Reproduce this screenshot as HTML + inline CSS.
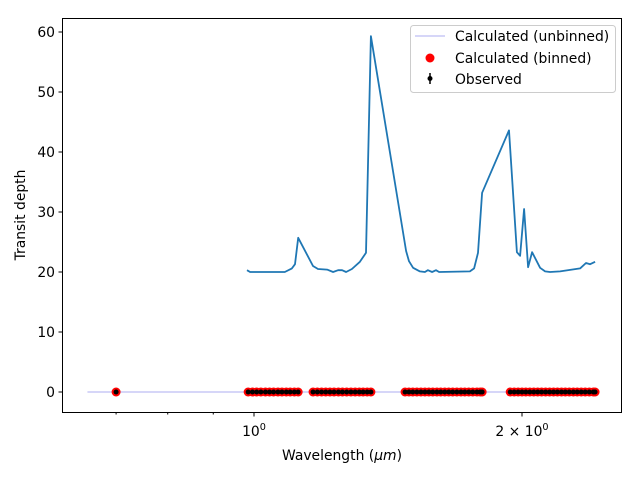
<!DOCTYPE html>
<html><head><meta charset="utf-8"><style>
body{margin:0;background:#fff}
svg{display:block;font-family:"DejaVu Sans","Liberation Sans",sans-serif}
</style></head><body>
<svg id="chart" width="640" height="480" viewBox="0 0 640 480" xmlns="http://www.w3.org/2000/svg">
<rect x="0" y="0" width="640" height="480" fill="#fff"/>
<g id="plot"></g>
<rect x="62.5" y="18.5" width="559" height="394" fill="none" stroke="#000" stroke-width="1"/>
<g id="axes"></g>
<text x="342" y="460" font-size="13.9" text-anchor="middle">Wavelength (<tspan font-style="italic">μm</tspan>)</text>
<text transform="translate(25,215) rotate(-90)" font-size="13.9" text-anchor="middle">Transit depth</text>
<g>
<rect x="410.5" y="25.5" width="205" height="67" rx="3" fill="#fff" fill-opacity="0.8" stroke="#ccc"/>
<line x1="415" y1="36" x2="445" y2="36" stroke="#c8c8f5" stroke-width="1.5"/>
<text x="455" y="41" font-size="13.9">Calculated (unbinned)</text>
<circle cx="430" cy="58" r="4.5" fill="red"/>
<text x="455" y="63" font-size="13.9">Calculated (binned)</text>
<line x1="430" y1="73" x2="430" y2="84" stroke="#000" stroke-width="1.5"/>
<circle cx="430" cy="78.5" r="2.5" fill="#000"/>
<text x="455" y="84" font-size="13.9">Observed</text>
</g>
</svg>
<script>
const lineWave=[0.982,0.990,1.083,1.103,1.112,1.121,1.165,1.180,1.208,1.227,1.243,1.256,1.269,1.288,1.315,1.336,1.353,1.482,1.493,1.509,1.536,1.556,1.568,1.585,1.601,1.614,1.748,1.767,1.785,1.804,1.934,1.974,1.990,2.011,2.032,2.053,2.096,2.123,2.150,2.207,2.324,2.360,2.385,2.416];
const lineDepth=[20.3,20.0,20.0,20.6,21.3,25.7,21.0,20.5,20.4,20.0,20.3,20.3,20.0,20.5,21.7,23.2,59.3,23.5,21.8,20.7,20.1,20.0,20.3,20.0,20.3,20.0,20.1,20.6,23.2,33.2,43.6,23.3,22.7,30.5,20.8,23.3,20.7,20.1,20.0,20.1,20.6,21.5,21.3,21.7];
const unbinnedWave=[0.65,2.42];
const unbinnedDepth=[0,0];
const binWave=[0.70,
0.985,0.996,1.007,1.018,1.030,1.041,1.052,1.064,1.075,1.087,1.098,1.110,1.121,
1.165,1.178,1.191,1.204,1.217,1.230,1.244,1.257,1.271,1.285,1.299,1.313,1.326,1.340,1.353,
1.478,1.493,1.508,1.524,1.540,1.556,1.572,1.588,1.605,1.621,1.638,1.655,1.672,1.690,1.708,1.725,1.743,1.761,1.780,1.795,1.804,
1.940,1.960,1.980,2.000,2.020,2.041,2.062,2.083,2.104,2.126,2.148,2.170,2.192,2.215,2.237,2.260,2.284,2.307,2.331,2.355,2.380,2.405,2.416];
const binDepth=binWave.map(()=>0);
const yTicks=[0,10,20,30,40,50,60];
const xMajor=[1,2];
const xMajorLabels=["10","2 × 10"];
const xMinor=[0.7,0.8,0.9];

const NS="http://www.w3.org/2000/svg";
const X0=254, PPD=890.3;
function xs(w){return X0+Math.log10(w)*PPD;}
function ys(v){return 392-v*6;}
function mk(tag,attrs,parent){const e=document.createElementNS(NS,tag);for(const k in attrs)e.setAttribute(k,attrs[k]);parent.appendChild(e);return e;}
const plot=document.getElementById('plot'), axes=document.getElementById('axes');

const ul=mk('polyline',{points:unbinnedWave.map((w,i)=>xs(w)+','+ys(unbinnedDepth[i])).join(' '),fill:'none',stroke:'#c8c8f5','stroke-width':1.5},plot);



binWave.forEach((w,i)=>{
  const c=mk('circle',{cx:xs(w),cy:ys(binDepth[i]),r:4.5,fill:'red'},plot);
  
  
});
binWave.forEach((w,i)=>{
  const c=mk('circle',{cx:xs(w),cy:ys(binDepth[i]),r:2.5,fill:'#000'},plot);
  
  
});
const ln=mk('polyline',{points:lineWave.map((w,i)=>xs(w).toFixed(1)+','+ys(lineDepth[i]).toFixed(1)).join(' '),fill:'none',stroke:'#1f77b4','stroke-width':1.8,'stroke-linejoin':'round'},plot);



yTicks.forEach(v=>{
  const y=ys(v);
  const t=mk('line',{x1:58.5,x2:62.5,y1:y,y2:y,stroke:'#000'},axes);
  
  
  const l=mk('text',{x:55,y:y+5,'font-size':13.9,'text-anchor':'end'},axes);
  l.textContent=v;
  
  
});
xMajor.forEach((w,i)=>{
  const x=xs(w);
  const t=mk('line',{x1:x,x2:x,y1:412.5,y2:416.5,stroke:'#000'},axes);
  
  
  const l=mk('text',{x:x,y:436,'font-size':13.9,'text-anchor':'middle'},axes);
  l.textContent=xMajorLabels[i];
  const s=mk('tspan',{dy:-6,'font-size':9.7},l);
  s.textContent='0';
  
  
});
xMinor.forEach(w=>{
  const x=xs(w);
  const t=mk('line',{x1:x,x2:x,y1:412.5,y2:414.5,stroke:'#000'},axes);
  
  
});
</script>
</body></html>
